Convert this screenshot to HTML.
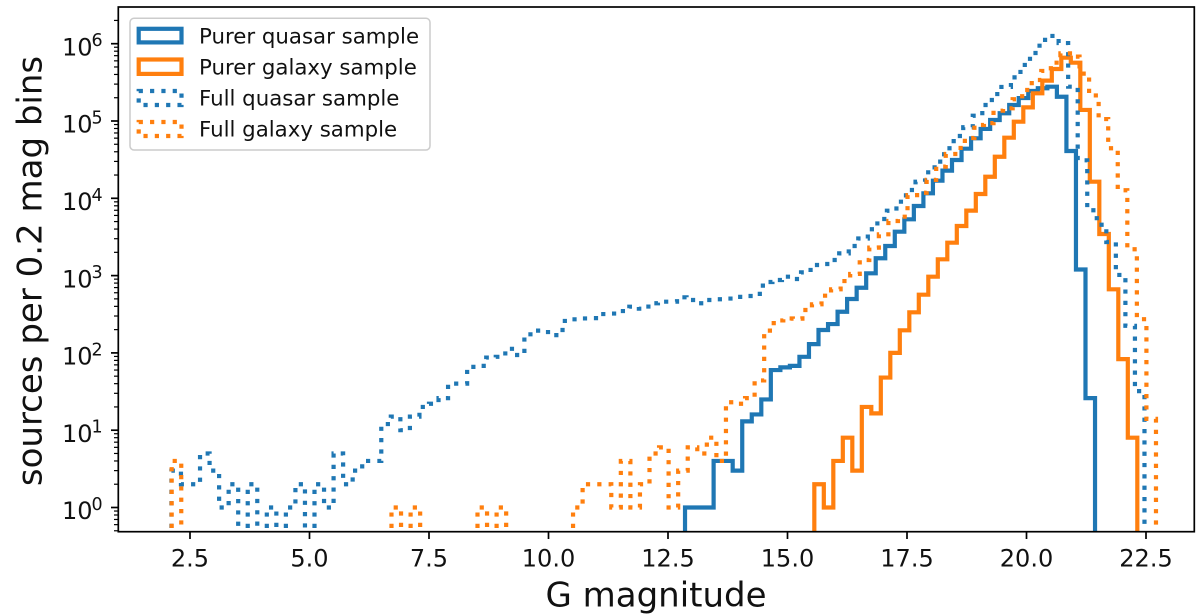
<!DOCTYPE html>
<html>
<head>
<meta charset="utf-8">
<title>G magnitude histogram</title>
<style>
html,body{margin:0;padding:0;background:#fff;width:1200px;height:616px;overflow:hidden}
svg{display:block}
text{font-family:"DejaVu Sans","Liberation Sans",sans-serif;fill:#111}
</style>
</head>
<body>
<svg id="chart" xmlns="http://www.w3.org/2000/svg" width="1200" height="616" viewBox="0 0 1200 616">
  <defs><clipPath id="plot-clip"><rect x="118.3" y="7" width="1076" height="524.7"/></clipPath></defs>
  <rect x="0" y="0" width="1200" height="616" fill="#fff"/>
  <g id="series" clip-path="url(#plot-clip)"></g>
  <rect x="118.3" y="7" width="1076" height="524.7" fill="none" stroke="#000" stroke-width="1.7"/>
  <g id="x-ticks"></g>
  <g id="y-ticks"></g>
  <text x="656" y="606.7" font-size="34" text-anchor="middle">G magnitude</text>
  <text transform="translate(41.5,271) rotate(-90)" font-size="34" text-anchor="middle">sources per 0.2 mag bins</text>
  <g>
    <rect x="130" y="18.3" width="300" height="131.7" rx="4" ry="4" fill="#fff" fill-opacity="0.8" stroke="#ccc" stroke-width="1.5"/>
    <g>
      <rect x="138.7" y="28.8" width="42.8" height="13.6" fill="none" stroke="#1f77b4" stroke-width="4.2"/>
      <text x="199" y="43.5" font-size="21.3">Purer quasar sample</text>
    </g>
    <g>
      <rect x="138.7" y="59.5" width="42.8" height="14.4" fill="none" stroke="#ff7f0e" stroke-width="4.2"/>
      <text x="199" y="74.5" font-size="21.3">Purer galaxy sample</text>
    </g>
    <g>
      <rect x="138.7" y="91" width="42.8" height="14" fill="none" stroke="#1f77b4" stroke-width="4.2" stroke-dasharray="4.2 7.13"/>
      <text x="199" y="105.5" font-size="21.3">Full quasar sample</text>
    </g>
    <g>
      <rect x="138.7" y="122" width="42.8" height="14" fill="none" stroke="#ff7f0e" stroke-width="4.2" stroke-dasharray="4.2 7.13"/>
      <text x="199" y="136.5" font-size="21.3">Full galaxy sample</text>
    </g>
  </g>
</svg>
<script>
var xTickValues = [2.5, 5, 7.5, 10, 12.5, 15, 17.5, 20, 22.5];
var xTickLabels = ["2.5", "5.0", "7.5", "10.0", "12.5", "15.0", "17.5", "20.0", "22.5"];
var yTickExponents = [0, 1, 2, 3, 4, 5, 6];

var purerQuasarStart = 12.856;
var purerQuasarWidth = 0.19948;
var purerQuasarCounts = [1,1,1,4,4,3,13,16,25,60,65,68,89,130,198,236,341,498,697,1070,1675,2415,3700,5350,7950,11600,16900,22800,31300,43800,59700,78900,103000,126000,161000,198000,245000,265000,278000,206000,40900,1200,26];

var purerGalaxyStart = 15.561;
var purerGalaxyWidth = 0.19874;
var purerGalaxyCounts = [2,1,4,8,3,20,16.5,48,100,196,335,566,968,1625,2667,4385,6920,11370,19000,34500,60800,98000,150000,228000,333000,471000,659000,568000,139000,16400,3450,665,83,8];

var fullQuasarStart = 2.111;
var fullQuasarWidth = 0.19958;
var fullQuasarCounts = [3,2,2,5,3,1,2,0,2,0,1,0,1,2,0,2,1,5,2,3,4,4,12,15,10,15,20,22,26,40,40,66,68,87,89,113,94,174,194,186,170,259,272,279,282,318,323,348,396,373,439,460,460,524,483,439,483,494,505,530,545,580,826,877,968,904,1100,1370,1414,1590,1940,2414,3020,3975,5395,6900,9040,12800,16400,21700,29800,44400,64000,83000,117000,161000,223000,276000,367000,531000,758000,1120000,1260000,1020000,278000,31000,7000,4550,2720,1020,224,32];

var fullGalaxyStart = 2.117;
var fullGalaxyWidth = 0.19992;
var fullGalaxyCounts = [4,0,0,0,0,0,0,0,0,0,0,0,0,0,0,0,0,0,0,0,0,0,0,1,0,1,0,0,0,0,0,0,1,0,1,0,0,0,0,0,0,0,1,2,2,2,1,4,1,2,5,6,1,3,6,5,8,4,23,22,26,44,194,263,279,277,359,425,550,665,850,1050,1590,2300,3420,5090,5780,11000,11800,17300,25700,37400,44800,60300,88700,93900,136000,146000,191000,252000,339000,444000,568000,750000,680000,410000,214000,106000,44400,12700,2190,273,14];

var SVGNS = "http://www.w3.org/2000/svg";

function xScale(g) { return 190 + 47.8 * (g - 2.5); }
function yScale(v) { return 507.5 - 77.3 * Math.log10(v); }

function fmt(n) { return n.toFixed(2); }

function stepPath(start, width, counts, baseY) {
  var d = "";
  var inRun = false;
  for (var i = 0; i < counts.length; i++) {
    var x0 = xScale(start + i * width);
    var x1 = xScale(start + (i + 1) * width);
    if (counts[i] > 0) {
      var y = yScale(counts[i]);
      if (!inRun) {
        d += "M" + fmt(x0) + " " + fmt(baseY);
        inRun = true;
      }
      d += "V" + fmt(y) + "H" + fmt(x1);
    } else if (inRun) {
      d += "V" + fmt(baseY);
      inRun = false;
    }
  }
  if (inRun) d += "V" + fmt(baseY);
  return d;
}

function addLine(parent, x1, y1, x2, y2, w, name) {
  var el = document.createElementNS(SVGNS, "line");
  el.setAttribute("x1", x1);
  el.setAttribute("y1", y1);
  el.setAttribute("x2", x2);
  el.setAttribute("y2", y2);
  el.setAttribute("stroke", "#000");
  el.setAttribute("stroke-width", w);
  
  
  parent.appendChild(el);
}

function addSeries(name, start, width, counts, color, dotted) {
  var el = document.createElementNS(SVGNS, "path");
  el.setAttribute("d", stepPath(start, width, counts, dotted ? 528 : 545));
  el.setAttribute("fill", "none");
  el.setAttribute("stroke", color);
  el.setAttribute("stroke-width", "4.2");
  el.setAttribute("stroke-linejoin", "miter");
  if (dotted) el.setAttribute("stroke-dasharray", "4.2 7.13");
  
  
  document.getElementById("series").appendChild(el);
}

addSeries("series-purer-quasar", purerQuasarStart, purerQuasarWidth, purerQuasarCounts, "#1f77b4", false);
addSeries("series-purer-galaxy", purerGalaxyStart, purerGalaxyWidth, purerGalaxyCounts, "#ff7f0e", false);
addSeries("series-full-quasar", fullQuasarStart, fullQuasarWidth, fullQuasarCounts, "#1f77b4", true);
addSeries("series-full-galaxy", fullGalaxyStart, fullGalaxyWidth, fullGalaxyCounts, "#ff7f0e", true);

var xGroup = document.getElementById("x-ticks");
xTickValues.forEach(function (g, i) {
  var x = xScale(g);
  addLine(xGroup, x, 531.7, x, 539, 1.7, "x-tick-mark");
  var t = document.createElementNS(SVGNS, "text");
  t.setAttribute("x", x);
  t.setAttribute("y", 566.7);
  t.setAttribute("font-size", "24");
  t.setAttribute("text-anchor", "middle");
  
  
  t.textContent = xTickLabels[i];
  xGroup.appendChild(t);
});

var yGroup = document.getElementById("y-ticks");
yTickExponents.forEach(function (e) {
  var y = yScale(Math.pow(10, e));
  addLine(yGroup, 118.3, y, 111, y, 1.7, "y-major-tick-mark");
  var t = document.createElementNS(SVGNS, "text");
  t.setAttribute("x", 62);
  t.setAttribute("y", y + 11.7);
  t.setAttribute("font-size", "24");
  
  
  t.textContent = "10";
  yGroup.appendChild(t);
  var s = document.createElementNS(SVGNS, "text");
  s.setAttribute("x", 91.5);
  s.setAttribute("y", y + 2.5);
  s.setAttribute("font-size", "17.5");
  
  
  s.textContent = String(e);
  yGroup.appendChild(s);
});
[-1, 0, 1, 2, 3, 4, 5, 6].forEach(function (e) {
  for (var m = 2; m <= 9; m++) {
    var y = yScale(m * Math.pow(10, e));
    if (y > 531 || y < 8) continue;
    addLine(yGroup, 118.3, y, 114, y, 1.2, "y-minor-tick-mark");
  }
});
</script>
</body>
</html>
